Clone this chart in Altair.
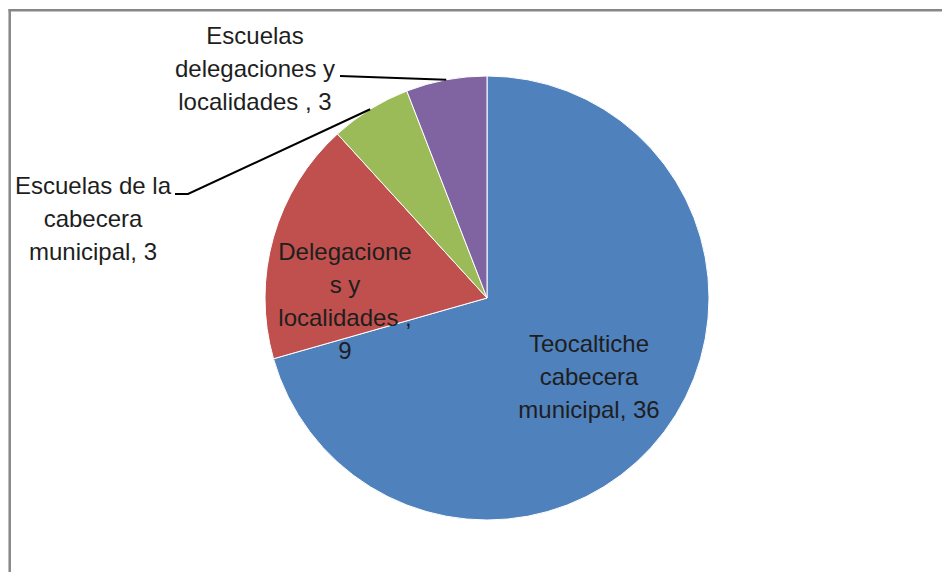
import math
import altair as alt
import pandas as pd

# ---- data ----
categories = [
    "Teocaltiche cabecera municipal",
    "Delegaciones y localidades",
    "Escuelas de la cabecera municipal",
    "Escuelas delegaciones y localidades",
]
values = [36, 9, 3, 3]
label_texts = [
    "Teocaltiche\ncabecera\nmunicipal, 36",
    "Delegacione\ns y\nlocalidades ,\n9",
    "Escuelas de la\ncabecera\nmunicipal, 3",
    "Escuelas\ndelegaciones y\nlocalidades , 3",
]
colors = ["#4F81BD", "#C0504D", "#9BBB59", "#8064A2"]

# ---- layout ----
W, H = 934, 564
CX, CY, R = 479, 290, 222
FONT = "Liberation Sans"
FS = 24
LH = 33
TEXT_COLOR = "#1e1e1e"
# label block centres relative to pie centre
label_offsets = [(102, 80), (-142, 4), (-394, -78), (-232, -228)]
# leader line points (relative to pie centre) before reaching the slice edge
leader_points = {
    2: [(-312, -104), (-299, -104)],
    3: [(-147, -222)],
}

total = sum(values)
cum = 0
slice_rows, label_rows, leader_rows = [], [], []
for i, (c, v, t) in enumerate(zip(categories, values, label_texts)):
    mid = (cum + v / 2) / total * 2 * math.pi
    cum += v
    slice_rows.append({"category": c, "value": v, "idx": i})
    ox, oy = label_offsets[i]
    parts = t.split("\n")
    first_y = CY + oy - (len(parts) - 1) * LH / 2
    label_rows.append({"text": parts, "lx": CX + ox, "ly": first_y})
    if i in leader_points:
        pts = [(CX + px, CY + py) for px, py in leader_points[i]]
        pts.append((CX + R * math.sin(mid), CY - R * math.cos(mid)))
        for k, (px, py) in enumerate(pts):
            leader_rows.append({"line": c, "seq": k, "px": px, "py": py})

slices = pd.DataFrame(slice_rows)
labels = pd.DataFrame(label_rows)
leaders = pd.DataFrame(leader_rows)

frame_src = pd.DataFrame({"a": [0]})
frame_top = alt.Chart(frame_src).mark_rule(stroke="#878787", strokeWidth=2.5).encode(
    x=alt.value(0.5), x2=alt.value(W), y=alt.value(2.3)
)
frame_left = alt.Chart(frame_src).mark_rule(stroke="#878787", strokeWidth=2.5).encode(
    x=alt.value(1.7), y=alt.value(1.1), y2=alt.value(H)
)

pie = alt.Chart(slices).mark_arc(radius=R, stroke="white", strokeWidth=1).encode(
    theta=alt.Theta("value:Q", stack=True),
    color=alt.Color("category:N", scale=alt.Scale(domain=categories, range=colors), legend=None),
    order=alt.Order("idx:Q"),
    x=alt.value(CX),
    y=alt.value(CY),
)

lines = alt.Chart(leaders).mark_line(color="#000000", strokeWidth=2).encode(
    x=alt.X("px:Q", scale=None),
    y=alt.Y("py:Q", scale=None),
    detail="line:N",
    order="seq:Q",
)

text = alt.Chart(labels).mark_text(
    font=FONT, fontSize=FS, lineHeight=LH, align="center", baseline="middle", color=TEXT_COLOR
).encode(
    x=alt.X("lx:Q", scale=None),
    y=alt.Y("ly:Q", scale=None),
    text="text",
)

chart = alt.layer(frame_top, frame_left, pie, lines, text).properties(
    width=W, height=H, autosize=alt.AutoSizeParams(type="none"), padding=0
).configure_view(stroke=None)

chart.save("out.html", embed_options={"renderer": "svg", "actions": False})
